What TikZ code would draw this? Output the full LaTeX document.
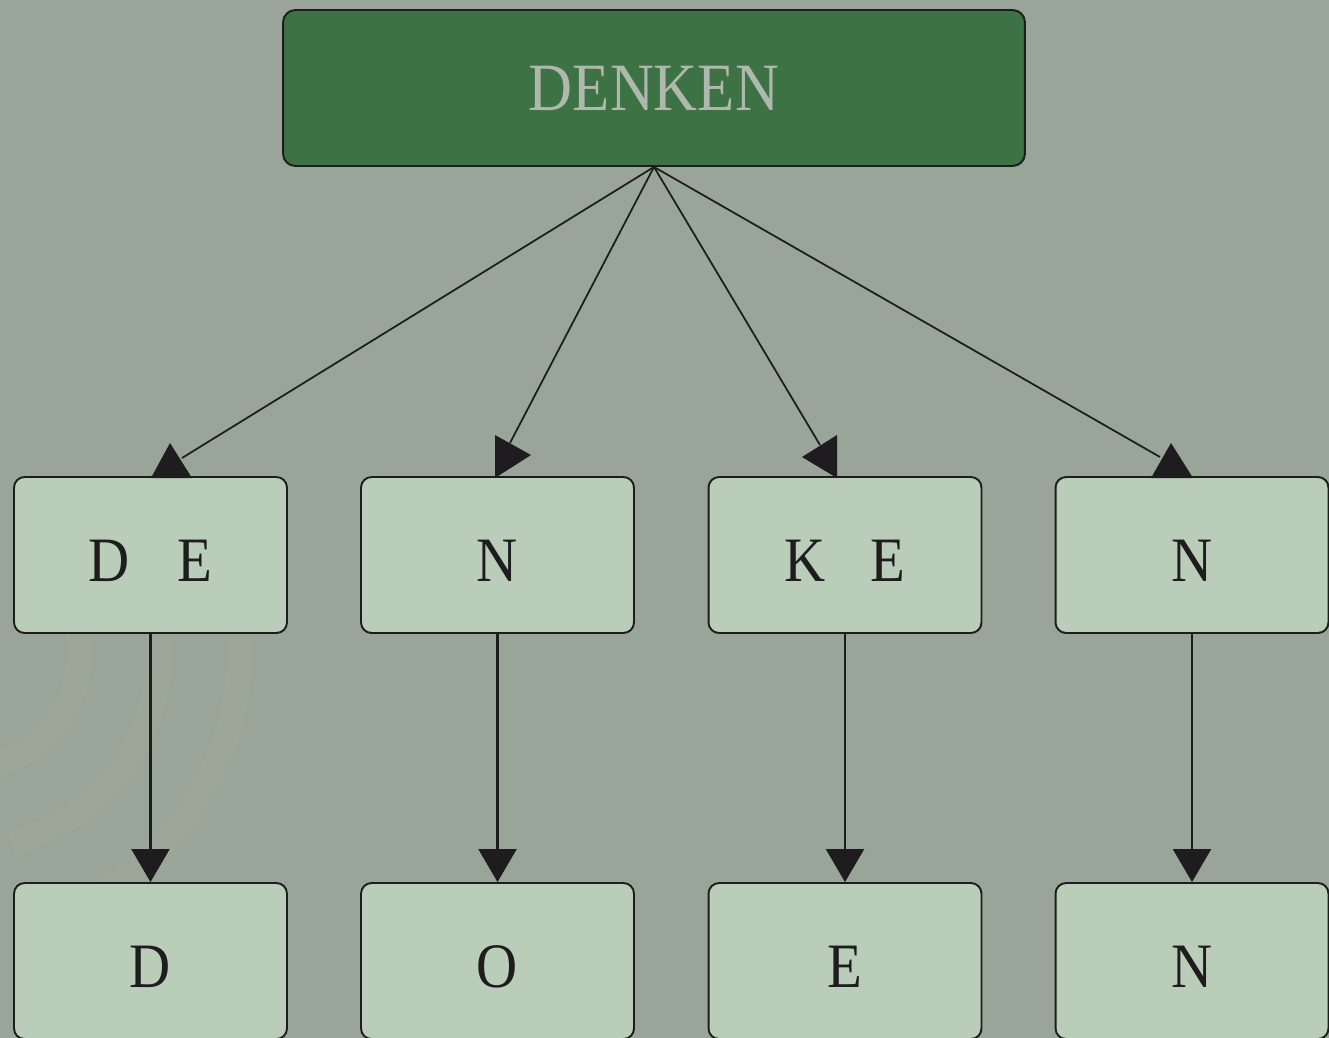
\documentclass[tikz,border=0pt]{standalone}
\usepackage{graphicx}
\usepackage{fontspec}
\setmainfont{Liberation Serif}
\usetikzlibrary{arrows.meta}
\definecolor{bg}{HTML}{9AA59A}
\definecolor{topfill}{HTML}{3D7245}
\definecolor{boxfill}{HTML}{B9CDB9}
\definecolor{ink}{HTML}{1E1C1E}
\definecolor{toptext}{HTML}{AEB8AC}
\definecolor{deco}{HTML}{B6C27A}
\newcommand{\narrowtxt}[1]{\scalebox{0.9}[1]{#1}}
\begin{document}
\begin{tikzpicture}[x=0.02cm,y=-0.02cm,
  topbox/.style={draw=ink, line width=1.1pt, fill=topfill, rounded corners=7pt,
    minimum width=14.84cm, minimum height=3.12cm, inner sep=0pt,
    text=toptext, font=\fontsize{38.5}{40}\selectfont},
  letterbox/.style={draw=ink, line width=1.1pt, fill=boxfill, rounded corners=6pt,
    minimum width=5.46cm, minimum height=3.12cm, inner sep=0pt,
    text=ink, font=\fontsize{36}{38}\selectfont, text height=30.6pt, text depth=0pt},
  diag/.style={draw=ink, line width=1pt},
  tip/.style={fill=ink},
  vert/.style={draw=ink, line width=1.4pt, -{Triangle[length=18.7pt,width=21.5pt]}},
  decoarc/.style={draw=deco, line width=0.5cm, opacity=0.08}
]
\useasboundingbox (0,0) rectangle (1329,1038);
\clip (0,0) rectangle (1329,1038);
\fill[bg] (0,0) rectangle (1329,1038);

% faint background ornament
\foreach \r in {120,200,280}{
  \draw[decoarc] (-40,650) ++(75:\r) arc[start angle=75, end angle=-40, radius=\r];
}
\foreach \r in {150,230,310}{
  \draw[decoarc] (-20,1040) ++(80:\r) arc[start angle=80, end angle=0, radius=\r];
}

% nodes
\node[topbox] (top) at (654,88) {\narrowtxt{DENKEN}};

\node[letterbox] (a1) at (150.5,555) {\narrowtxt{D\hspace{30pt}E}};
\node[letterbox] (a2) at (497.5,555) {\narrowtxt{N}};
\node[letterbox] (a3) at (845,555)   {\narrowtxt{K\hspace{28pt}E}};
\node[letterbox] (a4) at (1192,555)  {\narrowtxt{N}};

\node[letterbox] (b1) at (150.5,961) {\narrowtxt{D}};
\node[letterbox] (b2) at (497.5,961) {\narrowtxt{O}};
\node[letterbox] (b3) at (845,961)   {\narrowtxt{E}};
\node[letterbox] (b4) at (1192,961)  {\narrowtxt{N}};

% ends of the diagonal connectors
\coordinate (t1) at (182,458);
\coordinate (t2) at (510,443);
\coordinate (t3) at (820,445);
\coordinate (t4) at (1160,457);

\draw[diag] (top.south) -- (t1);
\draw[diag] (top.south) -- (t2);
\draw[diag] (top.south) -- (t3);
\draw[diag] (top.south) -- (t4);

% arrow heads as drawn in the reference
\fill[tip] (170,443) -- (192,478) -- (151,478) -- cycle;
\fill[tip] (495,435) -- (531,455) -- (495,478) -- cycle;
\fill[tip] (837,435) -- (802,457) -- (837,478) -- cycle;
\fill[tip] (1171,443) -- (1193,478) -- (1151,478) -- cycle;

% vertical connectors
\draw[vert] (a1.south) -- (b1.north);
\draw[vert] (a2.south) -- (b2.north);
\draw[vert] (a3.south) -- (b3.north);
\draw[vert] (a4.south) -- (b4.north);
\end{tikzpicture}
\end{document}
